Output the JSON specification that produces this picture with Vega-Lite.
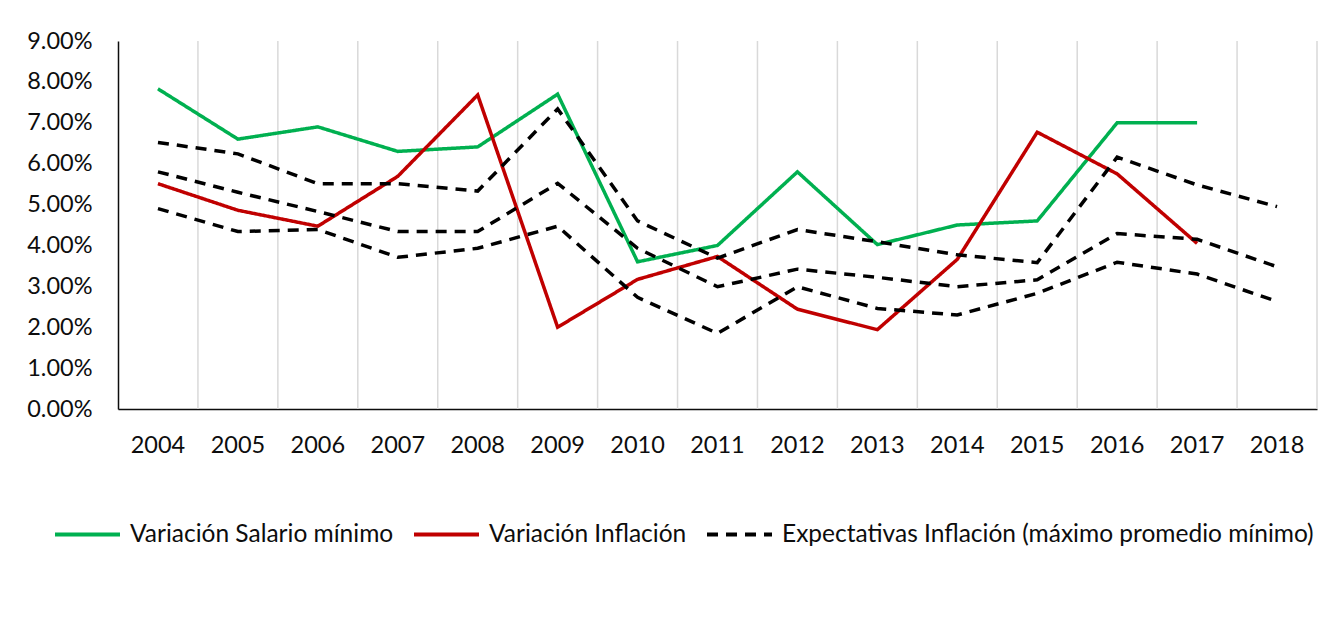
{
  "$schema": "https://vega.github.io/schema/vega-lite/v6.json",
  "width": 1199,
  "height": 368,
  "autosize": {"type": "none"},
  "padding": {"left": 118, "top": 41, "right": 18, "bottom": 220},
  "background": "white",
  "config": {
    "view": {"stroke": null},
    "font": "Lato",
    "axis": {"labelFont": "Lato", "labelColor": "#0d0d0d", "labelFontSize": 23.5},
    "legend": {"labelFont": "Lato", "labelColor": "#0d0d0d", "labelFontSize": 24.5}
  },
  "data": {
    "values": [
      {"year": 2004, "serie": "Variación Salario mínimo", "linea": "salario", "value": 0.0783},
      {"year": 2005, "serie": "Variación Salario mínimo", "linea": "salario", "value": 0.0660},
      {"year": 2006, "serie": "Variación Salario mínimo", "linea": "salario", "value": 0.0690},
      {"year": 2007, "serie": "Variación Salario mínimo", "linea": "salario", "value": 0.0630},
      {"year": 2008, "serie": "Variación Salario mínimo", "linea": "salario", "value": 0.0641},
      {"year": 2009, "serie": "Variación Salario mínimo", "linea": "salario", "value": 0.0770},
      {"year": 2010, "serie": "Variación Salario mínimo", "linea": "salario", "value": 0.0360},
      {"year": 2011, "serie": "Variación Salario mínimo", "linea": "salario", "value": 0.0400},
      {"year": 2012, "serie": "Variación Salario mínimo", "linea": "salario", "value": 0.0580},
      {"year": 2013, "serie": "Variación Salario mínimo", "linea": "salario", "value": 0.0402},
      {"year": 2014, "serie": "Variación Salario mínimo", "linea": "salario", "value": 0.0450},
      {"year": 2015, "serie": "Variación Salario mínimo", "linea": "salario", "value": 0.0460},
      {"year": 2016, "serie": "Variación Salario mínimo", "linea": "salario", "value": 0.0700},
      {"year": 2017, "serie": "Variación Salario mínimo", "linea": "salario", "value": 0.0700},
      {"year": 2004, "serie": "Variación Inflación", "linea": "inflacion", "value": 0.0551},
      {"year": 2005, "serie": "Variación Inflación", "linea": "inflacion", "value": 0.0486},
      {"year": 2006, "serie": "Variación Inflación", "linea": "inflacion", "value": 0.0447},
      {"year": 2007, "serie": "Variación Inflación", "linea": "inflacion", "value": 0.0569},
      {"year": 2008, "serie": "Variación Inflación", "linea": "inflacion", "value": 0.0768},
      {"year": 2009, "serie": "Variación Inflación", "linea": "inflacion", "value": 0.0200},
      {"year": 2010, "serie": "Variación Inflación", "linea": "inflacion", "value": 0.0317},
      {"year": 2011, "serie": "Variación Inflación", "linea": "inflacion", "value": 0.0373},
      {"year": 2012, "serie": "Variación Inflación", "linea": "inflacion", "value": 0.0244},
      {"year": 2013, "serie": "Variación Inflación", "linea": "inflacion", "value": 0.0194},
      {"year": 2014, "serie": "Variación Inflación", "linea": "inflacion", "value": 0.0366},
      {"year": 2015, "serie": "Variación Inflación", "linea": "inflacion", "value": 0.0677},
      {"year": 2016, "serie": "Variación Inflación", "linea": "inflacion", "value": 0.0575},
      {"year": 2017, "serie": "Variación Inflación", "linea": "inflacion", "value": 0.0405},
      {"year": 2004, "serie": "Expectativas Inflación (máximo promedio mínimo)", "linea": "max", "value": 0.0652},
      {"year": 2005, "serie": "Expectativas Inflación (máximo promedio mínimo)", "linea": "max", "value": 0.0624},
      {"year": 2006, "serie": "Expectativas Inflación (máximo promedio mínimo)", "linea": "max", "value": 0.0551},
      {"year": 2007, "serie": "Expectativas Inflación (máximo promedio mínimo)", "linea": "max", "value": 0.0551},
      {"year": 2008, "serie": "Expectativas Inflación (máximo promedio mínimo)", "linea": "max", "value": 0.0533},
      {"year": 2009, "serie": "Expectativas Inflación (máximo promedio mínimo)", "linea": "max", "value": 0.0734},
      {"year": 2010, "serie": "Expectativas Inflación (máximo promedio mínimo)", "linea": "max", "value": 0.0460},
      {"year": 2011, "serie": "Expectativas Inflación (máximo promedio mínimo)", "linea": "max", "value": 0.0369},
      {"year": 2012, "serie": "Expectativas Inflación (máximo promedio mínimo)", "linea": "max", "value": 0.0439},
      {"year": 2013, "serie": "Expectativas Inflación (máximo promedio mínimo)", "linea": "max", "value": 0.0409},
      {"year": 2014, "serie": "Expectativas Inflación (máximo promedio mínimo)", "linea": "max", "value": 0.0377},
      {"year": 2015, "serie": "Expectativas Inflación (máximo promedio mínimo)", "linea": "max", "value": 0.0358},
      {"year": 2016, "serie": "Expectativas Inflación (máximo promedio mínimo)", "linea": "max", "value": 0.0616},
      {"year": 2017, "serie": "Expectativas Inflación (máximo promedio mínimo)", "linea": "max", "value": 0.0548},
      {"year": 2018, "serie": "Expectativas Inflación (máximo promedio mínimo)", "linea": "max", "value": 0.0495},
      {"year": 2004, "serie": "Expectativas Inflación (máximo promedio mínimo)", "linea": "prom", "value": 0.0580},
      {"year": 2005, "serie": "Expectativas Inflación (máximo promedio mínimo)", "linea": "prom", "value": 0.0530},
      {"year": 2006, "serie": "Expectativas Inflación (máximo promedio mínimo)", "linea": "prom", "value": 0.0483},
      {"year": 2007, "serie": "Expectativas Inflación (máximo promedio mínimo)", "linea": "prom", "value": 0.0434},
      {"year": 2008, "serie": "Expectativas Inflación (máximo promedio mínimo)", "linea": "prom", "value": 0.0434},
      {"year": 2009, "serie": "Expectativas Inflación (máximo promedio mínimo)", "linea": "prom", "value": 0.0552},
      {"year": 2010, "serie": "Expectativas Inflación (máximo promedio mínimo)", "linea": "prom", "value": 0.0393},
      {"year": 2011, "serie": "Expectativas Inflación (máximo promedio mínimo)", "linea": "prom", "value": 0.0299},
      {"year": 2012, "serie": "Expectativas Inflación (máximo promedio mínimo)", "linea": "prom", "value": 0.0342},
      {"year": 2013, "serie": "Expectativas Inflación (máximo promedio mínimo)", "linea": "prom", "value": 0.0322},
      {"year": 2014, "serie": "Expectativas Inflación (máximo promedio mínimo)", "linea": "prom", "value": 0.0299},
      {"year": 2015, "serie": "Expectativas Inflación (máximo promedio mínimo)", "linea": "prom", "value": 0.0316},
      {"year": 2016, "serie": "Expectativas Inflación (máximo promedio mínimo)", "linea": "prom", "value": 0.0429},
      {"year": 2017, "serie": "Expectativas Inflación (máximo promedio mínimo)", "linea": "prom", "value": 0.0415},
      {"year": 2018, "serie": "Expectativas Inflación (máximo promedio mínimo)", "linea": "prom", "value": 0.0348},
      {"year": 2004, "serie": "Expectativas Inflación (máximo promedio mínimo)", "linea": "min", "value": 0.0490},
      {"year": 2005, "serie": "Expectativas Inflación (máximo promedio mínimo)", "linea": "min", "value": 0.0434},
      {"year": 2006, "serie": "Expectativas Inflación (máximo promedio mínimo)", "linea": "min", "value": 0.0439},
      {"year": 2007, "serie": "Expectativas Inflación (máximo promedio mínimo)", "linea": "min", "value": 0.0371},
      {"year": 2008, "serie": "Expectativas Inflación (máximo promedio mínimo)", "linea": "min", "value": 0.0393},
      {"year": 2009, "serie": "Expectativas Inflación (máximo promedio mínimo)", "linea": "min", "value": 0.0447},
      {"year": 2010, "serie": "Expectativas Inflación (máximo promedio mínimo)", "linea": "min", "value": 0.0273},
      {"year": 2011, "serie": "Expectativas Inflación (máximo promedio mínimo)", "linea": "min", "value": 0.0185},
      {"year": 2012, "serie": "Expectativas Inflación (máximo promedio mínimo)", "linea": "min", "value": 0.0299},
      {"year": 2013, "serie": "Expectativas Inflación (máximo promedio mínimo)", "linea": "min", "value": 0.0246},
      {"year": 2014, "serie": "Expectativas Inflación (máximo promedio mínimo)", "linea": "min", "value": 0.0230},
      {"year": 2015, "serie": "Expectativas Inflación (máximo promedio mínimo)", "linea": "min", "value": 0.0283},
      {"year": 2016, "serie": "Expectativas Inflación (máximo promedio mínimo)", "linea": "min", "value": 0.0359},
      {"year": 2017, "serie": "Expectativas Inflación (máximo promedio mínimo)", "linea": "min", "value": 0.0330},
      {"year": 2018, "serie": "Expectativas Inflación (máximo promedio mínimo)", "linea": "min", "value": 0.0263}
    ]
  },
  "layer": [
    {
      "transform": [{"filter": "datum.linea === 'max'"}],
      "mark": {"type": "rule", "color": "#d9d9d9", "strokeWidth": 1.5},
      "encoding": {
        "x": {
          "field": "year", "type": "ordinal", "bandPosition": 1,
          "scale": {"type": "band", "paddingInner": 0, "paddingOuter": 0},
          "axis": {"title": null, "labelAngle": 0, "ticks": false, "grid": false, "domainColor": "#0d0d0d", "domainWidth": 1.5, "labelPadding": 24}
        }
      }
    },
    {
      "mark": {"type": "line", "strokeWidth": 3.5, "strokeCap": "butt", "strokeJoin": "miter"},
      "encoding": {
        "x": {
          "field": "year", "type": "ordinal", "bandPosition": 0.5,
          "scale": {"type": "band", "paddingInner": 0, "paddingOuter": 0},
          "axis": {"title": null, "labelAngle": 0, "ticks": false, "grid": false, "domainColor": "#0d0d0d", "domainWidth": 1.5, "labelPadding": 24}
        },
        "y": {
          "field": "value", "type": "quantitative",
          "scale": {"domain": [0, 0.09], "nice": false},
          "axis": {"title": null, "format": ".2%", "values": [0, 0.01, 0.02, 0.03, 0.04, 0.05, 0.06, 0.07, 0.08, 0.09], "ticks": false, "grid": false, "domainColor": "#0d0d0d", "domainWidth": 1.5, "labelPadding": 26}
        },
        "color": {
          "field": "serie", "type": "nominal",
          "scale": {"domain": ["Variación Salario mínimo", "Variación Inflación", "Expectativas Inflación (máximo promedio mínimo)"], "range": ["#00B050", "#C00000", "#000000"]},
          "legend": {"title": null, "orient": "none", "legendX": -65, "legendY": 459, "direction": "horizontal", "symbolType": "stroke", "symbolSize": 4225, "symbolStrokeWidth": 4, "labelOffset": 8, "columnPadding": 12, "labelLimit": 0}
        },
        "strokeDash": {
          "field": "serie", "type": "nominal",
          "scale": {"domain": ["Variación Salario mínimo", "Variación Inflación", "Expectativas Inflación (máximo promedio mínimo)"], "range": [[1, 0], [1, 0], [11, 8]]},
          "legend": {"title": null, "orient": "none", "legendX": -65, "legendY": 459, "direction": "horizontal", "symbolType": "stroke", "symbolSize": 4225, "symbolStrokeWidth": 4, "labelOffset": 8, "columnPadding": 12, "labelLimit": 0}
        },
        "detail": {"field": "linea", "type": "nominal"}
      }
    }
  ]
}
